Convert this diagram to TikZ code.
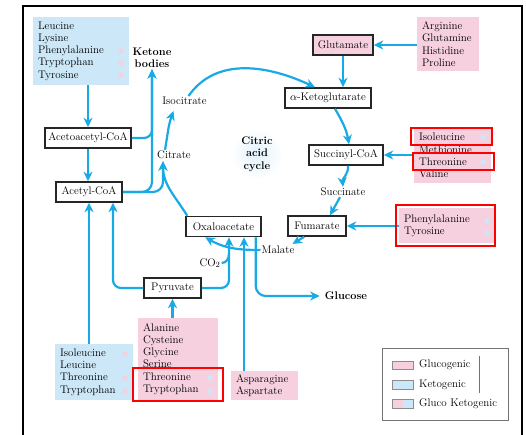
\documentclass[tikz,border=0pt]{standalone}
\usepackage{tikz}
\usetikzlibrary{arrows.meta,calc}
\definecolor{flowblue}{RGB}{24,170,228}
\definecolor{glucopink}{RGB}{247,208,223}
\definecolor{ketoblue}{RGB}{204,232,248}
\newcommand{\diagfont}{\fontsize{11}{12.3}\selectfont}

\begin{document}
\begin{tikzpicture}[x=1pt,y=1pt,
  metab/.style={draw=black!85,line width=1.5pt,fill=white,minimum height=20pt,inner xsep=3pt,inner ysep=1pt,font=\diagfont},
  aalist/.style={align=left,inner xsep=5pt,inner ysep=1pt,font=\diagfont},
  lbl/.style={inner sep=1pt,font=\diagfont},
  flow/.style={draw=flowblue,line width=2.2pt,-{Stealth[length=9.5pt,width=9pt,inset=3pt]}},
  hilite/.style={draw=red,line width=2pt},
  swatch/.style={draw=black!45,line width=0.6pt}]
\useasboundingbox (0,0) rectangle (526,-435);
\draw[line width=1.6pt] (23,-435) -- (23,-6) -- (522,-6) -- (522,-435);

% amino acid groups
\node[aalist,fill=ketoblue,text width=86pt,minimum height=68] (ketolist) at (81,-51) {Leucine\\Lysine\\Phenylalanine\\Tryptophan\\Tyrosine};
\node[aalist,fill=glucopink,text width=52pt,minimum height=54] (arglist) at (448,-44) {Arginine\\Glutamine\\Histidine\\Proline};
\node[aalist,fill=glucopink,text width=67pt,minimum height=55] (ilelist) at (452.5,-155.5) {Isoleucine\\Methionine\\Threonine\\Valine};
\node[aalist,fill=glucopink,text width=85pt,minimum height=35] (phelist) at (446.5,-225.5) {Phenylalanine\\Tyrosine};
\node[aalist,fill=glucopink,text width=70pt,minimum height=82] (alalist) at (178,-359) {Alanine\\Cysteine\\Glycine\\Serine\\Threonine\\Tryptophan};
\node[aalist,fill=ketoblue,text width=68pt,minimum height=56] (ileketo) at (94,-372) {Isoleucine\\Leucine\\Threonine\\Tryptophan};
\node[aalist,fill=glucopink,text width=57pt,minimum height=29] (asnlist) at (264.5,-385.5) {Asparagine\\Aspartate};

% markers for the other class
\foreach \y in {51,63,75} \fill[glucopink] (121,-\y) circle (2.6);
\foreach \y in {354,378,391} \fill[glucopink] (125,-\y) circle (2.6);
\foreach \y in {137,162} \fill[ketoblue] (483,-\y) circle (2.6);
\foreach \y in {221,233} \fill[ketoblue] (487,-\y) circle (2.6);
\foreach \y in {378,391} \fill[ketoblue] (210,-\y) circle (2.6);

% metabolites
\node[metab,minimum width=86] (acac) at (88,-138) {Acetoacetyl-CoA};
\node[metab,minimum width=66] (acetyl) at (89,-192) {Acetyl-CoA};
\node[metab,fill=glucopink,minimum width=60] (glutamate) at (343,-45) {Glutamate};
\node[metab,minimum width=86] (akg) at (328,-98) {$\alpha$-Ketoglutarate};
\node[metab,minimum width=74] (succinyl) at (346,-155) {Succinyl-CoA};
\node[metab,minimum width=58] (fumarate) at (317,-226) {Fumarate};
\node[metab,minimum width=75] (oxalo) at (223.5,-226.5) {Oxaloacetate};
\node[metab,minimum width=57] (pyruvate) at (172.5,-288) {Pyruvate};

\node[lbl,font=\diagfont\bfseries,align=center] (ketone) at (152,-58) {Ketone\\bodies};
\node[lbl] (isocitrate) at (184.5,-101) {Isocitrate};
\node[lbl] (citrate) at (174,-155) {Citrate};
\node[lbl] (succinate) at (343,-192) {Succinate};
\node[lbl] (malate) at (278,-250) {Malate};
\node[lbl] (co2) at (210,-263) {CO$_2$};
\node[lbl,font=\diagfont\bfseries] (glucose) at (346,-296) {Glucose};
\shade[inner color=ketoblue!60,outer color=white] (257,-154) circle (26);
\node[lbl,font=\diagfont\bfseries,align=center] (cycle) at (257,-154) {Citric\\acid\\cycle};

% pathways
\draw[flow] (ketolist.south -| acac.north) -- (acac.north);
\draw[flow] (acac.south) -- (acac.south |- acetyl.north);
\draw[flow,rounded corners=8pt] (acac.east) -| (ketone.south);
\draw[flow,rounded corners=10pt] (acetyl.east) -| (ketone.south);
\draw[flow,rounded corners=10pt] (acetyl.east) -| ($(citrate.south)+(-11,-1)$);
\draw[flow] ($(oxalo.north west)+(2,0)$) to[out=122,in=-90] ($(citrate.south)+(-11,-1)$);
\draw[flow] ($(citrate.north)+(-9,0)$) to[out=80,in=-110] ($(isocitrate.south)+(-11,-5)$);
\draw[flow] ($(isocitrate.north)+(4,0)$) to[out=55,in=155] ($(akg.north)+(-13,0)$);
\draw[flow] (arglist.west |- glutamate.east) -- (glutamate.east);
\draw[flow] (glutamate.south) -- (glutamate.south |- akg.north);
\draw[flow] ($(akg.south)+(7,0)$) to[out=-60,in=100] ($(succinyl.north)+(3,0)$);
\draw[flow] (ilelist.west |- succinyl.east) -- (succinyl.east);
\draw[flow] ($(succinyl.south)+(2,0)$) to[out=-85,in=95] (succinate.north);
\draw[flow] ($(succinate.south)+(-3,0)$) -- ($(fumarate.north)+(13,0)$);
\draw[flow] (phelist.west |- fumarate.east) -- (fumarate.east);
\draw[flow] ($(fumarate.south west)+(17,0)$) -- ($(malate.north east)+(-3,1)$);
\draw[flow] (malate.west) to[out=180,in=-30] ($(oxalo.south west)+(20,0)$);
\draw[flow,rounded corners=8pt] (pyruvate.east) -| ($(oxalo.south)+(5.5,0)$);
\draw[draw=flowblue,line width=2.2pt] (co2.east) to[out=0,in=-90] ($(oxalo.south)+(5.5,-17)$);
\draw[flow,rounded corners=8pt] (pyruvate.west) -| ($(acetyl.south)+(24,0)$);
\draw[flow] (acetyl.south |- ileketo.north) -- (acetyl.south);
\draw[flow] (pyruvate.south |- alalist.north) -- (pyruvate.south);
\draw[flow] ($(asnlist.north)+(-20.5,0)$) -- ($(oxalo.south)+(20.5,0)$);
\draw[flow,rounded corners=10pt] ($(oxalo.south east)+(-6,0)$) |- ($(glucose.west)+(-4,0)$);

% highlighted amino acids
\draw[hilite] (411,-128) rectangle (492,-145);
\draw[hilite] (413,-153) rectangle (494,-170);
\draw[hilite] (396,-205) rectangle (495,-246);
\draw[hilite] (133,-368) rectangle (223,-401);

% legend
\draw[black!55,line width=0.8pt] (382,-348) rectangle (508,-420);
\draw[swatch,fill=glucopink] (392,-361) rectangle (413,-369);
\draw[swatch,fill=ketoblue] (392,-380) rectangle (413,-389);
\fill[glucopink] (392,-399) rectangle (402.5,-408);
\fill[ketoblue] (402.5,-399) rectangle (413,-408);
\draw[swatch] (392,-399) rectangle (413,-408);
\node[lbl,anchor=west] (keyglu) at (418,-365) {Glucogenic};
\node[lbl,anchor=west] (keyket) at (418,-385) {Ketogenic};
\node[lbl,anchor=west] (keyboth) at (418,-404) {Gluco Ketogenic};
\draw[black!55,line width=0.8pt] (479,-356) -- (479,-393);
\end{tikzpicture}
\end{document}
